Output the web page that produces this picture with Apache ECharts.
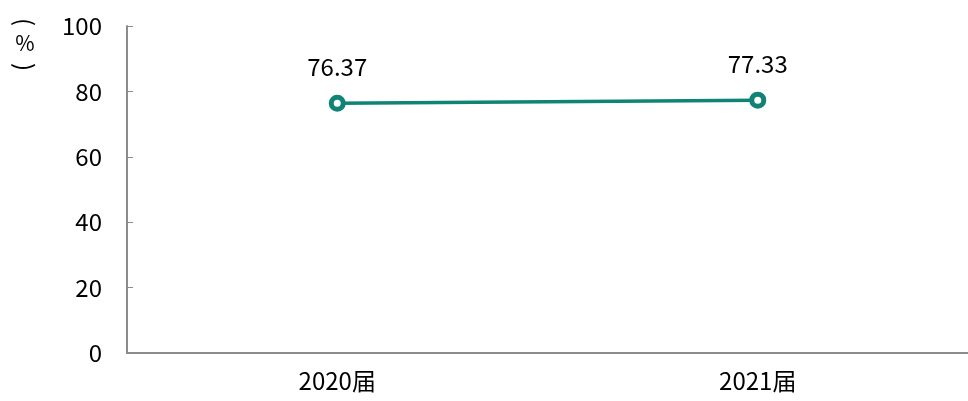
<!DOCTYPE html>
<html>
<head>
<meta charset="utf-8">
<script src="https://cdn.jsdelivr.net/npm/echarts@6/dist/echarts.min.js"></script>
<style>
  html, body { margin: 0; padding: 0; background: #fff; }
  #chart { width: 968px; height: 401px; }
</style>
</head>
<body>
<div id="chart"></div>
<script>
// 数据
var categories = ['2020届', '2021届'];
var rateValues = [76.37, 77.33];
var yTicks = [0, 20, 40, 60, 80, 100];

var FONT = '"Noto Sans CJK SC", "Noto Sans", sans-serif';
var LINE_COLOR = '#0f8476';
var my_chart = echarts.init(document.getElementById('chart'));

// 竖排的单位 (%)，括号顺时针旋转90度
function unitText(str, x, y, rot, size) {
    return {
        type: 'text',
        x: x,
        y: y,
        rotation: rot,
        style: {
            text: str,
            font: size + 'px ' + FONT,
            fill: '#000',
            align: 'center',
            verticalAlign: 'middle'
        }
    };
}

var option = {
    animation: false,
    grid: { left: 127, right: 0, top: 26, bottom: 48 },
    graphic: [
        unitText('(', 25, 22, -Math.PI / 2, 24),
        unitText('%', 25, 43, 0, 21),
        unitText(')', 25, 67, -Math.PI / 2, 24)
    ],
    xAxis: {
        type: 'category',
        data: categories,
        boundaryGap: true,
        axisLine: { lineStyle: { color: '#8c8c8c', width: 2 } },
        axisTick: { inside: true, length: 8, lineStyle: { color: '#8c8c8c', width: 1 } },
        axisLabel: { color: '#000', fontSize: 24, fontFamily: FONT, margin: 16 }
    },
    yAxis: {
        type: 'value',
        min: yTicks[0],
        max: yTicks[yTicks.length - 1],
        interval: 20,
        axisLine: { show: true, lineStyle: { color: '#8c8c8c', width: 2 } },
        axisTick: { show: true, inside: true, length: 6, lineStyle: { color: '#8c8c8c', width: 1 } },
        axisLabel: { color: '#000', fontSize: 24, fontFamily: FONT, margin: 25 },
        splitLine: { show: false }
    },
    series: [{
        type: 'line',
        data: rateValues,
        symbol: 'circle',
        symbolSize: 12,
        lineStyle: { color: LINE_COLOR, width: 3.5 },
        itemStyle: { color: '#fff', borderColor: LINE_COLOR, borderWidth: 5 },
        label: {
            show: true,
            position: 'top',
            distance: 16,
            color: '#000',
            fontSize: 24,
            fontFamily: FONT,
            formatter: function (p) { return p.value.toFixed(2); }
        }
    }]
};

my_chart.setOption(option);
</script>
</body>
</html>
